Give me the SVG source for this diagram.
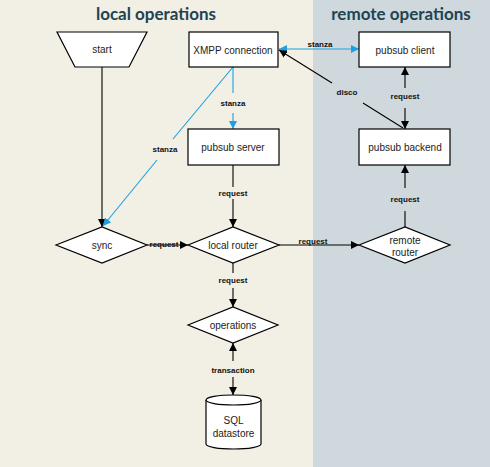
<svg xmlns="http://www.w3.org/2000/svg" width="490" height="467" viewBox="0 0 490 467">
<style>
.node{fill:#fff;stroke:#000;stroke-width:1.2}
.nt{font-family:"Liberation Sans",Arial,sans-serif;font-size:10px;fill:#222;text-anchor:middle;dominant-baseline:central}
.el{font-family:"Liberation Sans",Arial,sans-serif;font-size:8px;font-weight:bold;fill:#111;text-anchor:middle;dominant-baseline:central}
.title{font-family:Lato,"Open Sans",sans-serif;font-size:17px;font-weight:bold;fill:#1d4452;text-anchor:middle}
.k{fill:none;stroke:#000;stroke-width:1.1}
.b{fill:none;stroke:#1ba1e2;stroke-width:1.1}
</style>
<defs>
<marker id="ak" viewBox="0 0 10 10" refX="10" refY="5" markerWidth="8" markerHeight="8" markerUnits="userSpaceOnUse" orient="auto-start-reverse"><path d="M0,0 L10,5 L0,10 Z" fill="#000"/></marker>
<marker id="ab" viewBox="0 0 10 10" refX="10" refY="5" markerWidth="8" markerHeight="8" markerUnits="userSpaceOnUse" orient="auto-start-reverse"><path d="M0,0 L10,5 L0,10 Z" fill="#1ba1e2"/></marker>
</defs>
<g id="background">
<rect x="0" y="0" width="313" height="467" fill="#f2efe4"/>
<rect x="313" y="0" width="177" height="467" fill="#cfd8dc"/>
<text class="title" x="156" y="20">local operations</text>
<text class="title" x="401" y="20">remote operations</text>
</g>
<g id="connectors">
<line class="k" x1="102" y1="67" x2="102" y2="227" marker-end="url(#ak)"/>
<line class="b" x1="233" y1="67" x2="173" y2="139"/>
<line class="b" x1="157" y1="160" x2="103" y2="226" marker-end="url(#ab)"/>
<text class="el" x="165" y="149">stanza</text>
<line class="b" x1="233" y1="67" x2="233" y2="93"/>
<line class="b" x1="233" y1="113" x2="233" y2="129" marker-end="url(#ab)"/>
<text class="el" x="233" y="103">stanza</text>
<line class="b" x1="279" y1="49" x2="359" y2="49" marker-start="url(#ab)" marker-end="url(#ab)"/>
<text class="el" x="320" y="44">stanza</text>
<line class="k" x1="233" y1="165" x2="233" y2="187"/>
<line class="k" x1="233" y1="199" x2="233" y2="227" marker-end="url(#ak)"/>
<text class="el" x="233" y="193">request</text>
<line class="k" x1="147" y1="245" x2="188" y2="245" marker-end="url(#ak)"/>
<text class="el" x="164" y="244">request</text>
<line class="k" x1="279" y1="245" x2="359" y2="245" marker-end="url(#ak)"/>
<text class="el" x="313" y="241">request</text>
<line class="k" x1="233" y1="263" x2="233" y2="273"/>
<line class="k" x1="233" y1="288" x2="233" y2="307" marker-end="url(#ak)"/>
<text class="el" x="233" y="280">request</text>
<line class="k" x1="233" y1="343" x2="233" y2="361" marker-start="url(#ak)"/>
<line class="k" x1="233" y1="377" x2="233" y2="395" marker-end="url(#ak)"/>
<text class="el" x="233" y="370">transaction</text>
<line class="k" x1="405" y1="227" x2="405" y2="211"/>
<line class="k" x1="405" y1="188" x2="405" y2="165" marker-end="url(#ak)"/>
<text class="el" x="405" y="199">request</text>
<line class="k" x1="405" y1="67" x2="405" y2="88" marker-start="url(#ak)"/>
<line class="k" x1="405" y1="108" x2="405" y2="129" marker-end="url(#ak)"/>
<text class="el" x="405" y="96">request</text>
<line class="k" x1="403" y1="128" x2="363" y2="103"/>
<line class="k" x1="332" y1="83" x2="279" y2="50" marker-end="url(#ak)"/>
<text class="el" x="347" y="92">disco</text>
</g>
<g id="start">
<polygon class="node" points="57,32 147,32 129,67 75,67"/>
<text class="nt" x="102" y="49">start</text>
</g>
<g id="xmpp">
<rect class="node" x="189" y="32" width="89" height="35"/>
<text class="nt" x="233" y="50">XMPP connection</text>
</g>
<g id="pubsub-client">
<rect class="node" x="359" y="32" width="91" height="35"/>
<text class="nt" x="405" y="50">pubsub client</text>
</g>
<g id="pubsub-server">
<rect class="node" x="188" y="129" width="91" height="36"/>
<text class="nt" x="233" y="147">pubsub server</text>
</g>
<g id="pubsub-backend">
<rect class="node" x="359" y="129" width="91" height="36"/>
<text class="nt" x="405" y="147">pubsub backend</text>
</g>
<g id="sync">
<polygon class="node" points="56,245 102,227 147,245 102,263"/>
<text class="nt" x="102" y="245">sync</text>
</g>
<g id="local-router">
<polygon class="node" points="188,245 233,227 279,245 233,263"/>
<text class="nt" x="233" y="245">local router</text>
</g>
<g id="remote-router">
<polygon class="node" points="359,245 405,227 450,245 405,263"/>
<text class="nt" x="405" y="240">remote</text>
<text class="nt" x="405" y="252">router</text>
</g>
<g id="operations">
<polygon class="node" points="188,325 233,307 278,325 233,343"/>
<text class="nt" x="233" y="325">operations</text>
</g>
<g id="sql">
<path class="node" d="M206,400 A27.5,5 0 0 1 261,400 L261,444 A27.5,5 0 0 1 206,444 Z"/>
<path class="node" fill="none" d="M206,400 A27.5,5 0 0 0 261,400"/>
<text class="nt" x="233.5" y="420">SQL</text>
<text class="nt" x="233.5" y="433">datastore</text>
</g>
</svg>
